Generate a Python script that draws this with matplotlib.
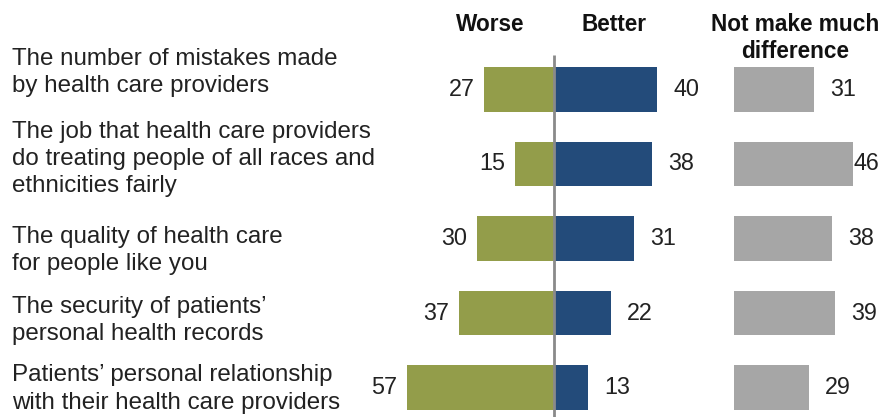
import numpy as np
import matplotlib
matplotlib.use("Agg")
import matplotlib.pyplot as plt

# data
items = [
    "The number of mistakes made\nby health care providers",
    "The job that health care providers\ndo treating people of all races and\nethnicities fairly",
    "The quality of health care\nfor people like you",
    "The security of patients\u2019\npersonal health records",
    "Patients\u2019 personal relationship\nwith their health care providers",
]
worse = [27, 15, 30, 37, 57]
better = [40, 38, 31, 22, 13]
no_diff = [31, 46, 38, 39, 29]
headers = ["Worse", "Better", "Not make much\ndifference"]

c_worse = "#939d4a"
c_better = "#234b7a"
c_gray = "#a6a6a6"

plt.rcParams['font.family'] = ['Liberation Sans', 'DejaVu Sans']

fig = plt.figure(figsize=(8.84, 4.17), dpi=100)
ax = fig.add_axes([0, 0, 1, 1])
ax.axis('off')

scale = 2.58          # px per percentage point
x0 = 554              # pixel of the zero line
ax.set_xlim(-x0 / scale, (884 - x0) / scale)
row0, step = 89.5, 74.5
ax.set_ylim((417 - row0) / step, -row0 / step)

y = np.arange(len(items))
gray_left = 69.8
h = 0.6

ax.barh(y, [-v for v in worse], height=h, color=c_worse)
ax.barh(y, better, height=h, color=c_better)
ax.barh(y, no_diff, left=gray_left, height=h, color=c_gray)

ax.vlines(0, (55 - row0) / step, (417 - row0) / step, color="#8a8a8a", lw=2)

fs = 16.8
xmax = ax.get_xlim()[1]
for i in range(len(items)):
    ax.text(-worse[i] - 3.8, y[i], str(worse[i]), ha='right', va='center',
            fontsize=fs, color="#222222")
    ax.text(better[i] + 6.3, y[i], str(better[i]), ha='left', va='center',
            fontsize=fs, color="#222222")
    gx = min(gray_left + no_diff[i] + 6.3, xmax - 12.0)
    ax.text(gx, y[i], str(no_diff[i]), ha='left', va='center',
            fontsize=fs, color="#222222")

# row label offsets (rows) so text blocks sit like the original
offs = [-0.23, -0.07, 0.16, 0.10, 0.02]
for i, lab in enumerate(items):
    ax.text(12 / 884, y[i] + offs[i], lab, transform=ax.get_yaxis_transform(),
            ha='left', va='center', fontsize=17.4, color="#222222",
            linespacing=1.3)

# column headers
hx = [(490 - x0) / scale, (614 - x0) / scale, (795 - x0) / scale]
hy = (13 - row0) / step
for xx, t in zip(hx, headers):
    ax.text(xx, hy, t, ha='center', va='top', fontsize=16.3,
            fontweight='bold', color="#111111", linespacing=1.2)

fig.savefig("out.png", dpi=100)
